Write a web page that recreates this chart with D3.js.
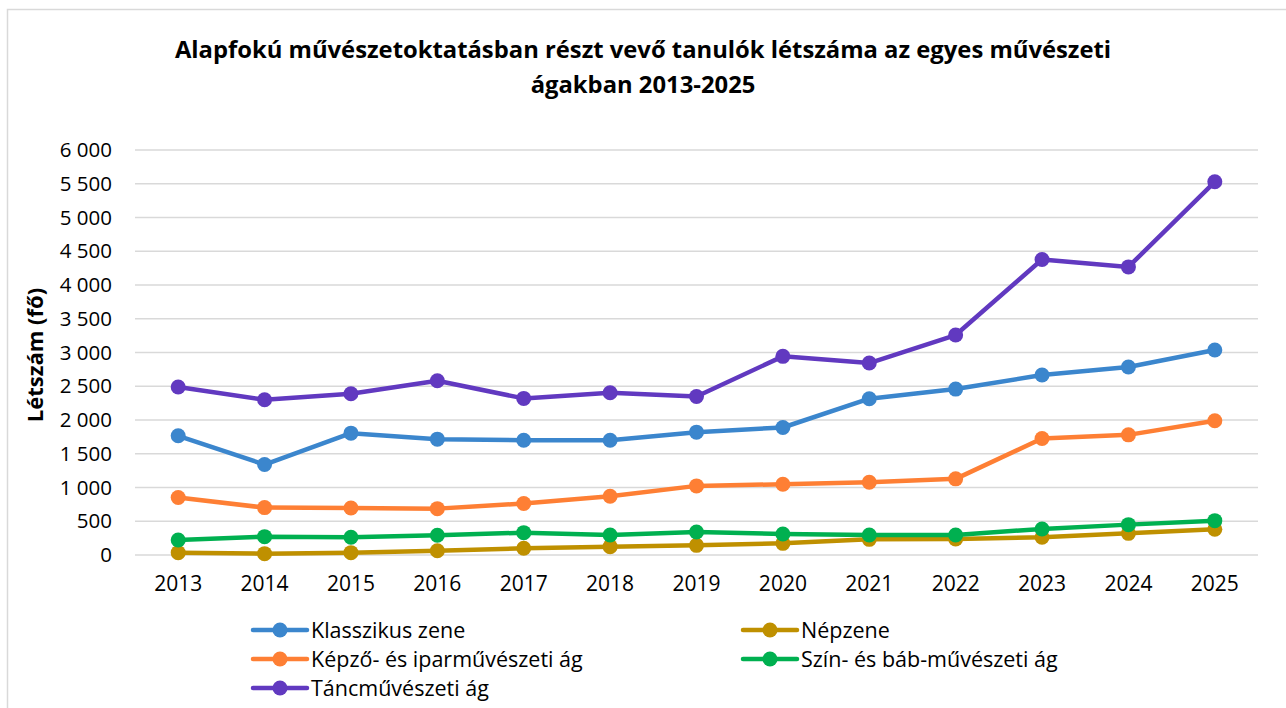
<!DOCTYPE html>
<html>
<head>
<meta charset="utf-8">
<style>
body { margin: 0; background: #ffffff; }
svg { font-family: "Open Sans", sans-serif; }
.grid line { stroke: #d9d9d9; stroke-width: 1.5; }
.tick text { fill: #000; }
</style>
</head>
<body>
<div id="chart"></div>
<script src="https://d3js.org/d3.v7.min.js"></script>
<script>
// years on the x axis
var years = ["2013","2014","2015","2016","2017","2018","2019","2020","2021","2022","2023","2024","2025"];

// series values (fő)
var klasszikus = [1766, 1340, 1805, 1716, 1701, 1701, 1820, 1889, 2315, 2458, 2666, 2785, 3037];
var nepzene    = [35, 20, 35, 64, 99, 124, 143, 173, 232, 237, 262, 321, 381];
var kepzo      = [851, 702, 697, 687, 762, 870, 1024, 1048, 1078, 1128, 1726, 1780, 1988];
var szinbab    = [223, 272, 262, 292, 331, 297, 341, 312, 297, 297, 386, 450, 509];
var tanc       = [2488, 2300, 2389, 2582, 2320, 2404, 2349, 2943, 2844, 3259, 4377, 4268, 5529];

var yTicks = [0, 500, 1000, 1500, 2000, 2500, 3000, 3500, 4000, 4500, 5000, 5500, 6000];

var series = [
  {name: "Klasszikus zene", values: klasszikus, color: "#3b86cd"},
  {name: "Népzene", values: nepzene, color: "#bf9000"},
  {name: "Képző- és iparművészeti ág", values: kepzo, color: "#fe7f34"},
  {name: "Szín- és báb-művészeti ág", values: szinbab, color: "#00b050"},
  {name: "Táncművészeti ág", values: tanc, color: "#6139c0"}
];

var W = 1286, H = 708;
var svg = d3.select("#chart").append("svg")
  .attr("width", W).attr("height", H);

// chart frame
svg.append("rect")
  .attr("x", 7.5).attr("y", 9.5)
  .attr("width", W + 10).attr("height", H + 10)
  .attr("fill", "#fff").attr("stroke", "#d9d9d9").attr("stroke-width", 1.5);

// title
var title = svg.append("text")
  .attr("text-anchor", "middle")
  .attr("font-weight", "bold")
  .attr("font-size", "23.8px")
  .attr("fill", "#000");
title.append("tspan").attr("x", 643).attr("y", 58)
  .text("Alapfokú művészetoktatásban részt vevő tanulók létszáma az egyes művészeti");
title.append("tspan").attr("x", 643).attr("y", 93)
  .text("ágakban 2013-2025");

var x = d3.scaleBand().domain(years).range([135, 1258]);
var y = d3.scaleLinear().domain([0, 6000]).range([555, 150]);
var cx = function(i) { return x(years[i]) + x.bandwidth() / 2; };

// gridlines
svg.append("g").attr("class", "grid")
  .selectAll("line").data(yTicks).enter().append("line")
  .attr("x1", 135).attr("x2", 1258)
  .attr("y1", function(d) { return y(d); })
  .attr("y2", function(d) { return y(d); });

// y axis
var fmt = function(d) { return d3.format(",")(d).replace(/,/g, " "); };
var yAxis = svg.append("g")
  .attr("transform", "translate(120,0)")
  .call(d3.axisLeft(y).tickValues(yTicks).tickSize(0).tickPadding(8).tickFormat(fmt));
yAxis.select(".domain").remove();
yAxis.selectAll("text").attr("font-size", "20.5px").attr("font-family", "Open Sans");

// x axis
var xAxis = svg.append("g")
  .attr("transform", "translate(0,571)")
  .call(d3.axisBottom(x).tickSize(0).tickPadding(0));
xAxis.select(".domain").remove();
xAxis.selectAll("text").attr("font-size", "21px").attr("font-family", "Open Sans").attr("dy", "0.95em");

// y axis title
svg.append("text")
  .attr("transform", "translate(43,355) rotate(-90)")
  .attr("text-anchor", "middle")
  .attr("font-weight", "bold")
  .attr("font-size", "22px")
  .text("Létszám (fő)");

// lines and markers
var line = d3.line()
  .x(function(d, i) { return cx(i); })
  .y(function(d) { return y(d); });

series.forEach(function(s) {
  var g = svg.append("g");
  g.append("path")
    .datum(s.values)
    .attr("d", line)
    .attr("fill", "none")
    .attr("stroke", s.color)
    .attr("stroke-width", 4.5)
    .attr("stroke-linejoin", "round");
  g.selectAll("circle").data(s.values).enter().append("circle")
    .attr("cx", function(d, i) { return cx(i); })
    .attr("cy", function(d) { return y(d); })
    .attr("r", 7.5)
    .attr("fill", s.color);
});

// legend
var legendPos = [[253, 630], [743, 630], [253, 659], [743, 659], [253, 688]];
series.forEach(function(s, i) {
  var p = legendPos[i];
  var g = svg.append("g").attr("transform", "translate(" + p[0] + "," + p[1] + ")");
  g.append("line").attr("x1", 0).attr("x2", 54).attr("y1", 0).attr("y2", 0)
    .attr("stroke", s.color).attr("stroke-width", 4.5).attr("stroke-linecap", "round");
  g.append("circle").attr("cx", 27).attr("cy", 0).attr("r", 7.5).attr("fill", s.color);
  g.append("text").attr("x", 58).attr("y", 0).attr("dy", "0.35em")
    .attr("font-size", "21.5px").text(s.name);
});
</script>
</body>
</html>
